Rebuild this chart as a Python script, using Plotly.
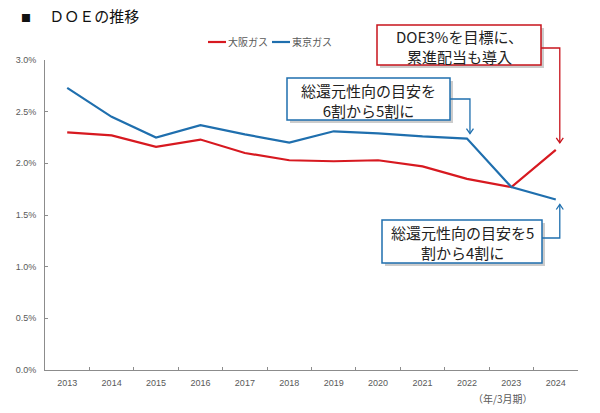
import plotly.graph_objects as go

years = ["2013", "2014", "2015", "2016", "2017", "2018", "2019", "2020", "2021", "2022", "2023", "2024"]
osaka_doe = [0.0230, 0.0227, 0.0216, 0.0223, 0.0210, 0.0203, 0.0202, 0.0203, 0.0197, 0.0185, 0.0177, 0.0213]
tokyo_doe = [0.0273, 0.0245, 0.0225, 0.0237, 0.0228, 0.0220, 0.0231, 0.0229, 0.0226, 0.0224, 0.0177, 0.0165]
series_names = ["大阪ガス", "東京ガス"]
y_ticks = [0.0, 0.005, 0.010, 0.015, 0.020, 0.025, 0.030]

RED = "#d71920"
RED_BOX = "#c8141c"
BLUE = "#1f6fae"
GRAY = "#595959"
JP = "Noto Sans CJK JP"

W, H = 600, 413
ML, MR, MT, MB = 45, 22, 60, 43
PW, PH = W - ML - MR, H - MT - MB
Y_MAX = 0.030

fig = go.Figure()
fig.add_trace(go.Scatter(x=years, y=osaka_doe, mode="lines", name=series_names[0],
                         line=dict(color=RED, width=2.2)))
fig.add_trace(go.Scatter(x=years, y=tokyo_doe, mode="lines", name=series_names[1],
                         line=dict(color=BLUE, width=2.2)))

fig.update_layout(
    width=W, height=H,
    margin=dict(l=ML, r=MR, t=MT, b=MB, autoexpand=False),
    plot_bgcolor="white", paper_bgcolor="white",
    title=dict(text="<span style='font-size:10px'>■</span>　 ＤＯＥの推移",
               xref="container", yref="container",
               x=21 / W, xanchor="left", y=1 - 16.5 / H, yanchor="middle",
               font=dict(family=JP, size=15, color="#111111")),
    showlegend=False,
)
fig.update_xaxes(type="category", showgrid=False, showline=True, linecolor="#8c8c8c", linewidth=1,
                 ticks="inside", ticklen=3, tickcolor="#8c8c8c", tickson="boundaries",
                 ticklabelstandoff=4,
                 tickfont=dict(family="Liberation Sans", size=9, color=GRAY), range=[-0.5, 11.5])
fig.update_yaxes(range=[0, Y_MAX], tickvals=y_ticks, tickformat=".1%", showgrid=False, zeroline=False,
                 showline=True, linecolor="#8c8c8c", linewidth=1, ticks="inside", ticklen=3,
                 tickcolor="#8c8c8c", ticklabelstandoff=6,
                 tickfont=dict(family="Liberation Sans", size=9, color=GRAY))


def px_x(p):
    return (p - ML) / PW


def px_y(p):
    return (H - MB - p) / PH


def val_px(v):
    return H - MB - v / Y_MAX * PH


def cat_px(i):
    return ML + (i + 0.5) * PW / len(years)


# compact legend (line sample + label)
for name, color, x0 in zip(series_names, [RED, BLUE], [208, 272]):
    fig.add_shape(type="line", xref="paper", yref="paper",
                  x0=px_x(x0), x1=px_x(x0 + 18), y0=px_y(42), y1=px_y(42),
                  line=dict(color=color, width=2.2))
    fig.add_annotation(text=name, xref="paper", yref="paper", x=px_x(x0 + 18), y=px_y(42),
                       xanchor="left", yanchor="middle", showarrow=False,
                       font=dict(family=JP, size=10, color=GRAY))

# unit label
fig.add_annotation(text="（年/3月期）", xref="paper", yref="paper", x=px_x(534), y=px_y(398),
                   xanchor="right", yanchor="middle", showarrow=False,
                   font=dict(family=JP, size=10, color=GRAY))


def callout(text, left, right, top, bottom, color):
    fig.add_shape(type="rect", xref="paper", yref="paper",
                  x0=px_x(left + 3), x1=px_x(right + 3), y0=px_y(bottom + 3), y1=px_y(top + 3),
                  line=dict(width=0), fillcolor="rgba(0,0,0,0.2)", layer="above")
    fig.add_shape(type="rect", xref="paper", yref="paper",
                  x0=px_x(left), x1=px_x(right), y0=px_y(bottom), y1=px_y(top),
                  line=dict(color=color, width=1.5), fillcolor="white", layer="above")
    fig.add_annotation(text=text, xref="paper", yref="paper",
                       x=px_x((left + right) / 2), y=px_y((top + bottom) / 2 + 1),
                       xanchor="center", yanchor="middle", showarrow=False,
                       font=dict(family=JP, size=15, color="#222222"), align="center")


def connector(idx, value, box_right, dx, mid_px_y, color, gap):
    x_line = cat_px(idx) + dx
    py = val_px(value)
    tip = py - gap if mid_px_y < py else py + gap
    fig.add_shape(type="path", xref="paper", yref="paper",
                  path=f"M {px_x(box_right)} {px_y(mid_px_y)} L {px_x(x_line)} {px_y(mid_px_y)} "
                       f"L {px_x(x_line)} {px_y(tip)}",
                  line=dict(color=color, width=1.3), layer="above")
    d = -5 if mid_px_y < py else 5
    fig.add_shape(type="path", xref="paper", yref="paper",
                  path=f"M {px_x(x_line - 3.5)} {px_y(tip + d)} L {px_x(x_line)} {px_y(tip)} "
                       f"L {px_x(x_line + 3.5)} {px_y(tip + d)}",
                  line=dict(color=color, width=1.3), layer="above")


# Red callout (Osaka Gas 2024)
callout("DOE3%を目標に、<br>累進配当も導入", 377, 541, 25, 65, RED_BOX)
connector(11, osaka_doe[11], 541, 4, 48, RED_BOX, 7)

# Blue callout (Tokyo Gas 2022)
callout("総還元性向の目安を<br>6割から5割に", 287, 450, 78, 120, BLUE)
connector(9, tokyo_doe[9], 450, 3, 99, BLUE, 5)

# Blue callout (Tokyo Gas 2024)
callout("総還元性向の目安を5<br>割から4割に", 382, 542, 220, 263, BLUE)
connector(11, tokyo_doe[11], 542, 4, 238, BLUE, 5)

fig.write_html("out.html", config={"displayModeBar": False},
               post_script="document.body.style.margin='0px';")
